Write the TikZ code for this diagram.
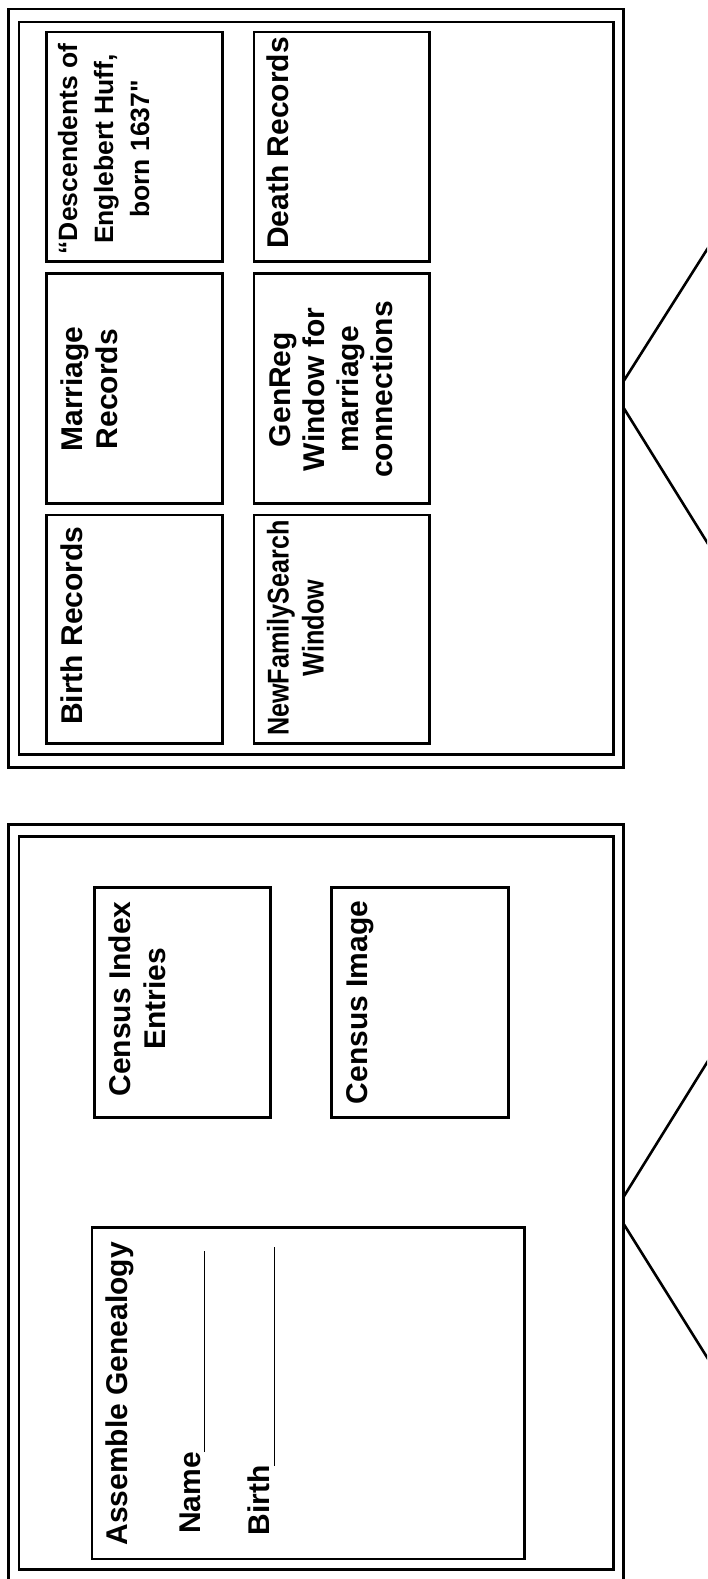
\documentclass[tikz,border=0pt]{standalone}
\usepackage{fontspec}
\setmainfont{Liberation Sans}
\newfontfamily\straightfont{Liberation Sans}[Ligatures=TeXOff]
\usepackage{graphicx}
\usetikzlibrary{fit}
\newcommand\mystrut{\rule[-0.25em]{0pt}{1em}}
\begin{document}
\begin{tikzpicture}[x=1pt,y=-1pt,
  frame/.style={draw, line width=2.6pt, inner sep=0pt},
  lbl/.style={rotate=90, inner sep=0pt, font=\fontsize{30}{35}\selectfont\bfseries},
  lblc/.style={lbl, align=center, anchor=center},
  stand/.style={line width=2.6pt}]
\useasboundingbox (0,0) rectangle (707,1579);
\clip (0,0) rectangle (707,1579);
% ---------- top monitor ----------
\node[frame, fit={(8.3,9) (623.7,767.7)}] (topouter) {};
\node[frame, fit={(19,22) (613.5,754.3)}] (topinner) {};
\node[frame, fit={(46.3,32) (222.7,261.7)}] (descbox) {};
\node[frame, fit={(254,32) (429.3,261.7)}] (deathbox) {};
\node[frame, fit={(46.3,273.3) (222.7,503.3)}] (marrbox) {};
\node[frame, fit={(254,273.3) (429.3,503.3)}] (genregbox) {};
\node[frame, fit={(46.3,515) (222.7,743.3)}] (birthbox) {};
\node[frame, fit={(254,515) (429.3,743.3)}] (nfsbox) {};
\node[lblc, font=\fontsize{26.5}{36}\selectfont\bfseries] (desc) at (106.4,149)
  {“Descendents of\mystrut\\Englebert Huff,\mystrut\\born 1637{\straightfont\bfseries "}\mystrut};
\node[lbl, anchor=base west] (death) at (288.5,249) {Death Records};
\node[lblc] (marr) at (92.8,389) {Marriage\mystrut\\Records\mystrut};
\node[lblc, font=\fontsize{30}{34}\selectfont\bfseries] (genreg) at (333.5,389.5)
  {GenReg\mystrut\\Window for\mystrut\\marriage\mystrut\\connections\mystrut};
\node[lbl, anchor=base west] (birth) at (82.5,725) {Birth Records};
\node[lblc] (nfs) at (298.6,628)
  {\scalebox{0.84}[1]{NewFamilySearch}\mystrut\\\scalebox{0.84}[1]{Window}\mystrut};
\coordinate (ta) at (623.7,381);  \coordinate (tb) at (720,229);
\coordinate (tc) at (623.7,408);  \coordinate (td) at (720,563.1);
\draw[stand] (ta) -- (tb);
\draw[stand] (tc) -- (td);
% ---------- bottom monitor ----------
\node[frame, fit={(8.3,824.3) (623.7,1583)}] (botouter) {};
\node[frame, fit={(19,836.7) (613.5,1569.7)}] (botinner) {};
\node[frame, fit={(94.2,887.7) (270.5,1117.7)}] (cibox) {};
\node[frame, fit={(331.7,887.7) (508.3,1117.7)}] (cimbox) {};
\node[frame, fit={(92,1227.7) (524.3,1559)}] (agbox) {};
\node[lblc] (ci) at (140.9,999) {Census Index\mystrut\\Entries\mystrut};
\node[lbl, anchor=base] (cim) at (367.5,1002.5) {Census Image};
\node[lbl, anchor=base west] (ag) at (127,1545.7) {Assemble Genealogy};
\node[lbl, anchor=base west] (namef) at (200,1534) {Name\rule[-5pt]{201pt}{1.5pt}};
\node[lbl, anchor=base west] (birthf) at (269.3,1535.7) {Birth\rule[-5.75pt]{219pt}{1.5pt}};
\coordinate (ba) at (623.7,1196.7); \coordinate (bb) at (720,1041.6);
\coordinate (bc) at (623.7,1224);   \coordinate (bd) at (720,1378);
\draw[stand] (ba) -- (bb);
\draw[stand] (bc) -- (bd);
\end{tikzpicture}
\end{document}
